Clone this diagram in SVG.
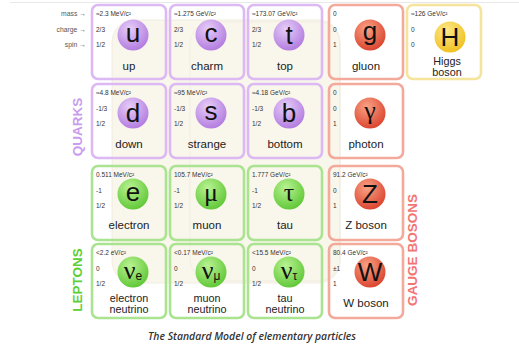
<svg xmlns="http://www.w3.org/2000/svg" width="519" height="346" viewBox="0 0 519 346">
<style>
.card{fill:none;stroke-width:2.6}
.q{stroke:#dcb9f3}.l{stroke:#abe491}.b{stroke:#f3aa9b}.h{stroke:#f6e39c}
.sm{font-family:"Liberation Sans",Arial,sans-serif;font-size:6.5px;fill:#333}
.lab{font-family:"Liberation Sans",Arial,sans-serif;font-size:11.5px;fill:#222;text-anchor:middle}
.lab2{font-family:"Liberation Sans",Arial,sans-serif;font-size:10.8px;fill:#222;text-anchor:middle}
.sym{font-family:"Liberation Sans",Arial,sans-serif;font-size:26px;fill:#111;text-anchor:middle}
.gr{font-family:"Liberation Serif","DejaVu Serif",serif;font-size:26px;fill:#111;text-anchor:middle}
.sub{font-family:"Liberation Sans",Arial,sans-serif;font-size:12px}
.leg{font-family:"Liberation Sans",Arial,sans-serif;font-size:6.8px;fill:#555;text-anchor:end}
.grp{font-family:"Liberation Sans",Arial,sans-serif;font-size:13.5px;font-weight:bold;text-anchor:middle}
</style>
<defs>
<radialGradient id="gq" cx="40%" cy="30%" r="75%"><stop offset="0" stop-color="#e6cdf8"/><stop offset="1" stop-color="#b078de"/></radialGradient>
<radialGradient id="gl" cx="40%" cy="30%" r="75%"><stop offset="0" stop-color="#b9f292"/><stop offset="1" stop-color="#5cc633"/></radialGradient>
<radialGradient id="gb" cx="40%" cy="30%" r="75%"><stop offset="0" stop-color="#f9a285"/><stop offset="1" stop-color="#d9402b"/></radialGradient>
<radialGradient id="gh" cx="40%" cy="30%" r="75%"><stop offset="0" stop-color="#fce98a"/><stop offset="1" stop-color="#efbe1c"/></radialGradient>
</defs>
<rect width="519" height="346" fill="#fff"/>
<line x1="10" y1="2.5" x2="519" y2="2.5" stroke="#e8e8e8" stroke-width="1"/>
<g id="background">
<rect x="112" y="20" width="228" height="263" rx="22" fill="#f9f6ec" stroke="#efeadc" stroke-width="0.8"/>
<rect x="190" y="22" width="150" height="259" rx="22" fill="none" stroke="#efeadc" stroke-width="0.6"/>
</g>
<g id="legend">
<text class="leg" x="86" y="16">mass →</text>
<text class="leg" x="86" y="32">charge →</text>
<text class="leg" x="86" y="47">spin →</text>
</g>
<g id="up" transform="translate(92,5)"><rect class="card q" width="74" height="74" rx="6"/><text class="sm" x="4" y="11">≈2.3 MeV/c²</text><text class="sm" x="4" y="27">2/3</text><text class="sm" x="4" y="42">1/2</text><circle cx="41" cy="30" r="15.5" fill="url(#gq)"/><text class="sym" x="41" y="37">u</text><text class="lab" x="37" y="65">up</text></g>
<g id="charm" transform="translate(170,5)"><rect class="card q" width="74" height="74" rx="6"/><text class="sm" x="4" y="11">≈1.275 GeV/c²</text><text class="sm" x="4" y="27">2/3</text><text class="sm" x="4" y="42">1/2</text><circle cx="41" cy="30" r="15.5" fill="url(#gq)"/><text class="sym" x="41" y="37">c</text><text class="lab" x="37" y="65">charm</text></g>
<g id="top" transform="translate(248,5)"><rect class="card q" width="74" height="74" rx="6"/><text class="sm" x="4" y="11">≈173.07 GeV/c²</text><text class="sm" x="4" y="27">2/3</text><text class="sm" x="4" y="42">1/2</text><circle cx="41" cy="30" r="15.5" fill="url(#gq)"/><text class="sym" x="41" y="39">t</text><text class="lab" x="37" y="65">top</text></g>
<g id="gluon" transform="translate(329,5)"><rect class="card b" width="74" height="74" rx="6"/><text class="sm" x="4" y="11">0</text><text class="sm" x="4" y="27">0</text><text class="sm" x="4" y="42">1</text><circle cx="41" cy="30" r="15.5" fill="url(#gb)"/><text class="sym" x="41" y="35">g</text><text class="lab" x="37" y="65">gluon</text></g>
<g id="higgs" transform="translate(407,5)"><rect class="card h" width="74" height="74" rx="6"/><text class="sm" x="4" y="11">≈126 GeV/c²</text><text class="sm" x="4" y="27">0</text><text class="sm" x="4" y="42">0</text><circle cx="43" cy="32" r="15.5" fill="url(#gh)"/><text class="sym" x="43" y="41">H</text><text class="lab2" x="40" y="60">Higgs</text><text class="lab2" x="40" y="70.5">boson</text></g>

<g id="down" transform="translate(92,84)"><rect class="card q" width="74" height="74" rx="6"/><text class="sm" x="4" y="11">≈4.8 MeV/c²</text><text class="sm" x="4" y="27">-1/3</text><text class="sm" x="4" y="42">1/2</text><circle cx="41" cy="29" r="15.5" fill="url(#gq)"/><text class="sym" x="41" y="38">d</text><text class="lab" x="37" y="64">down</text></g>
<g id="strange" transform="translate(170,84)"><rect class="card q" width="74" height="74" rx="6"/><text class="sm" x="4" y="11">≈95 MeV/c²</text><text class="sm" x="4" y="27">-1/3</text><text class="sm" x="4" y="42">1/2</text><circle cx="41" cy="29" r="15.5" fill="url(#gq)"/><text class="sym" x="41" y="36">s</text><text class="lab" x="37" y="64">strange</text></g>
<g id="bottom" transform="translate(248,84)"><rect class="card q" width="74" height="74" rx="6"/><text class="sm" x="4" y="11">≈4.18 GeV/c²</text><text class="sm" x="4" y="27">-1/3</text><text class="sm" x="4" y="42">1/2</text><circle cx="41" cy="29" r="15.5" fill="url(#gq)"/><text class="sym" x="41" y="38">b</text><text class="lab" x="37" y="64">bottom</text></g>
<g id="photon" transform="translate(329,84)"><rect class="card b" width="74" height="74" rx="6"/><text class="sm" x="4" y="11">0</text><text class="sm" x="4" y="27">0</text><text class="sm" x="4" y="42">1</text><circle cx="41" cy="29" r="15.5" fill="url(#gb)"/><text class="gr" x="41" y="35">γ</text><text class="lab" x="37" y="64">photon</text></g>

<g id="electron" transform="translate(92,166)"><rect class="card l" width="74" height="74" rx="6"/><text class="sm" x="4" y="11">0.511 MeV/c²</text><text class="sm" x="4" y="27">-1</text><text class="sm" x="4" y="42">1/2</text><circle cx="41" cy="28" r="15.5" fill="url(#gl)"/><text class="sym" x="41" y="35">e</text><text class="lab" x="37" y="63">electron</text></g>
<g id="muon" transform="translate(170,166)"><rect class="card l" width="74" height="74" rx="6"/><text class="sm" x="4" y="11">105.7 MeV/c²</text><text class="sm" x="4" y="27">-1</text><text class="sm" x="4" y="42">1/2</text><circle cx="41" cy="28" r="15.5" fill="url(#gl)"/><text class="gr" x="41" y="35">μ</text><text class="lab" x="37" y="63">muon</text></g>
<g id="tau" transform="translate(248,166)"><rect class="card l" width="74" height="74" rx="6"/><text class="sm" x="4" y="11">1.777 GeV/c²</text><text class="sm" x="4" y="27">-1</text><text class="sm" x="4" y="42">1/2</text><circle cx="41" cy="28" r="15.5" fill="url(#gl)"/><text class="gr" x="41" y="35">τ</text><text class="lab" x="37" y="63">tau</text></g>
<g id="zboson" transform="translate(329,166)"><rect class="card b" width="74" height="74" rx="6"/><text class="sm" x="4" y="11">91.2 GeV/c²</text><text class="sm" x="4" y="27">0</text><text class="sm" x="4" y="42">1</text><circle cx="41" cy="28" r="15.5" fill="url(#gb)"/><text class="sym" x="41" y="37">Z</text><text class="lab" x="37" y="63">Z boson</text></g>

<g id="enu" transform="translate(92,244)"><rect class="card l" width="74" height="74" rx="6"/><text class="sm" x="4" y="11">&lt;2.2 eV/c²</text><text class="sm" x="4" y="27">0</text><text class="sm" x="4" y="42">1/2</text><circle cx="41" cy="28" r="15.5" fill="url(#gl)"/><text class="gr" x="41" y="35">ν<tspan class="sub" dy="1">e</tspan></text><text class="lab2" x="37" y="58">electron</text><text class="lab2" x="37" y="68.5">neutrino</text></g>
<g id="munu" transform="translate(170,244)"><rect class="card l" width="74" height="74" rx="6"/><text class="sm" x="4" y="11">&lt;0.17 MeV/c²</text><text class="sm" x="4" y="27">0</text><text class="sm" x="4" y="42">1/2</text><circle cx="41" cy="28" r="15.5" fill="url(#gl)"/><text class="gr" x="41" y="35">ν<tspan class="sub" dy="1">μ</tspan></text><text class="lab2" x="37" y="58">muon</text><text class="lab2" x="37" y="68.5">neutrino</text></g>
<g id="taunu" transform="translate(248,244)"><rect class="card l" width="74" height="74" rx="6"/><text class="sm" x="4" y="11">&lt;15.5 MeV/c²</text><text class="sm" x="4" y="27">0</text><text class="sm" x="4" y="42">1/2</text><circle cx="41" cy="28" r="15.5" fill="url(#gl)"/><text class="gr" x="41" y="35">ν<tspan class="sub" dy="1">τ</tspan></text><text class="lab2" x="37" y="58">tau</text><text class="lab2" x="37" y="68.5">neutrino</text></g>
<g id="wboson" transform="translate(329,244)"><rect class="card b" width="74" height="74" rx="6"/><text class="sm" x="4" y="11">80.4 GeV/c²</text><text class="sm" x="4" y="27">±1</text><text class="sm" x="4" y="42">1</text><circle cx="41" cy="28" r="15.5" fill="url(#gb)"/><text class="sym" x="41" y="37">W</text><text class="lab" x="37" y="63">W boson</text></g>

<g id="groups">
<text class="grp" fill="#c99cf0" transform="translate(82,127) rotate(-90)">QUARKS</text>
<text class="grp" fill="#5ccf36" transform="translate(82,280) rotate(-90)">LEPTONS</text>
<text class="grp" fill="#f27474" transform="translate(417,250) rotate(-90)">GAUGE BOSONS</text>
</g>
<text x="252" y="340" font-family="'Open Sans','Noto Sans',sans-serif" font-style="italic" font-weight="600" font-size="10.4" fill="#333" text-anchor="middle">The Standard Model of elementary particles</text>
</svg>
